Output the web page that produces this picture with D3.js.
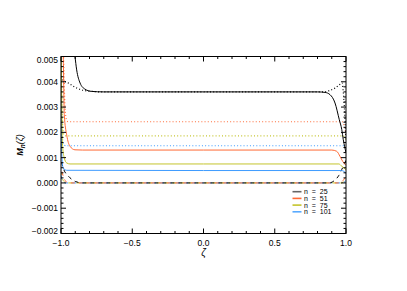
<!DOCTYPE html>
<html>
<head>
<meta charset="utf-8">
<script src="https://cdn.jsdelivr.net/npm/d3@7"></script>
<style>
  body { margin: 0; background: #fff; }
  svg { display: block; }
  text { font-family: "Liberation Sans", Arial, sans-serif; fill: #000; }
</style>
</head>
<body>
<svg width="407" height="291"></svg>
<script>
// data: [zeta, M_n(zeta)] pairs
var n25_solid = [[-0.93,0.0062],[-0.902,0.0050],[-0.89,0.00447],[-0.866,0.00395],[-0.832,0.00371],[-0.785,0.00362],[-0.7,0.0036],
  [0,0.0036],[0.8,0.0036],[0.853,0.00358],[0.888,0.00349],[0.923,0.00316],[0.953,0.0025],[0.97,0.00212],[0.981,0.00171],[1.0,0.0012]];
var n25_dot = [[-1.0,0.0042],[-0.995,0.00412],[-0.949,0.00395],[-0.902,0.00379],[-0.855,0.00368],[-0.785,0.00362],[-0.7,0.0036],
  [0,0.0036],[0.84,0.0036],[0.888,0.00366],[0.923,0.00375],[0.953,0.00388],[0.972,0.00395],[0.985,0.0033],[1.0,0.0017]];
var n25_dash = [[-1.0,0.0009],[-0.98,0.00052],[-0.95,0.00028],[-0.9,0.00006],[-0.85,0],[0,0],[0.88,0],[0.92,0.0001],[0.95,0.0003],[0.97,0.00053],[0.985,0.0007],[1.0,0.0009]];

var n51_solid = [[-1.0,0.0075],[-0.984,0.0050],[-0.977,0.0027],[-0.96,0.0019],[-0.937,0.00145],[-0.902,0.00131],[-0.85,0.0013],
  [0,0.0013],[0.9,0.0013],[0.935,0.00125],[0.958,0.00105],[0.977,0.00085],[1.0,0.0007]];
var n51_dot = [[-1.0,0.008],[-0.982,0.005],[-0.972,0.0030],[-0.962,0.0025],[-0.95,0.00242],[0,0.00242],[0.975,0.00242],[0.99,0.0022],[1.0,0.0019]];
var n51_dash = [[-1.0,0.0006],[-0.98,0.0002],[-0.95,0],[0,0],[0.95,0],[0.98,0.0001],[1.0,0.0003]];

var n75_solid = [[-1.0,0.006],[-0.992,0.0020],[-0.988,0.0014],[-0.977,0.00099],[-0.96,0.00079],[-0.937,0.00075],[0,0.00075],
  [0.95,0.00075],[0.97,0.00066],[1.0,0.00053]];
var n75_dot = [[-1.0,0.005],[-0.99,0.0025],[-0.98,0.0019],[-0.96,0.00186],[0,0.00186],[0.98,0.00186],[1.0,0.0017]];
var n75_dash = [[-1.0,0.0004],[-0.985,0.0001],[-0.96,0],[0,0],[0.97,0],[1.0,0.0002]];

var n101_solid = [[-1.0,0.004],[-0.995,0.0012],[-0.985,0.00059],[-0.96,0.0005],[0,0.00049],[0.97,0.00049],[1.0,0.00038]];
var n101_dot = [[-1.0,0.004],[-0.99,0.0018],[-0.98,0.0015],[-0.96,0.00147],[0,0.00147],[0.98,0.00147],[1.0,0.0014]];
var n101_dash = [[-1.0,0.0003],[-0.99,0.0001],[-0.97,0],[0,0],[0.98,0],[1.0,0.0001]];

var legendLabels = ["n  =  25", "n  =  51", "n  =  75", "n  =  101"];
var legendColors = ["#666666", "#ff6a36", "#c4c42c", "#59aaff"];
var xTicks = [-1.0, -0.5, 0.0, 0.5, 1.0];
var yTicks = [-0.002, -0.001, 0.000, 0.001, 0.002, 0.003, 0.004, 0.005];

var black = "#000", orange = "#ff6a36", yellow = "#c4c42c", blue = "#3d9bff";

const svg = d3.select("svg");
const pLeft = 61, pRight = 346, pTop = 56.5, pBottom = 233.5;

var x = d3.scaleLinear().domain([-1, 1]).range([pLeft, pRight]);
var y = d3.scaleLinear().domain([-0.002, 0.005]).range([pBottom, pTop]);

svg.append("defs").append("clipPath").attr("id", "clip")
  .append("rect").attr("x", pLeft).attr("y", pTop).attr("width", pRight - pLeft).attr("height", pBottom - pTop);

var line = d3.line().x(d => x(d[0])).y(d => y(d[1])).curve(d3.curveMonotoneX);

var series = [
  {d: n101_dash, c: blue, s: "dash", off: 0},
  {d: n75_dash, c: yellow, s: "dash", off: 2},
  {d: n51_dash, c: orange, s: "dash", off: 4},
  {d: n25_dash, c: black, s: "dash", off: 6},
  {d: n101_dot, c: blue, s: "dot"},
  {d: n75_dot, c: yellow, s: "dot"},
  {d: n51_dot, c: orange, s: "dot"},
  {d: n25_dot, c: black, s: "dot"},
  {d: n101_solid, c: blue, s: "solid"},
  {d: n75_solid, c: yellow, s: "solid"},
  {d: n51_solid, c: orange, s: "solid"},
  {d: n25_solid, c: black, s: "solid"}
];

var g = svg.append("g").attr("clip-path", "url(#clip)");
g.selectAll("path")
  .data(series)
  .join("path")
    .attr("d", d => line(d.d))
    .attr("fill", "none")
    .attr("stroke", d => d.c)
    .attr("stroke-width", d => d.s == "dot" ? 1.2 : 1)
    .attr("stroke-dasharray", d => d.s == "dot" ? "1,2.2" : d.s == "dash" ? "4,4" : null)
    .attr("stroke-dashoffset", d => d.off || 0);

// frame
svg.append("rect")
  .attr("x", pLeft).attr("y", pTop).attr("width", pRight - pLeft).attr("height", pBottom - pTop)
  .attr("fill", "none").attr("stroke", "#000").attr("stroke-width", 1);

// ticks (inward, IDL style)
var xMinor = d3.range(-1, 1.0001, 0.1);
var yMinor = d3.range(-0.002, 0.00500001, 0.0002);
var tk = svg.append("g").attr("stroke", "#000").attr("stroke-width", 1);
xMinor.forEach(function(v) {
  var major = Math.abs(v * 2 - Math.round(v * 2)) < 1e-6;
  var len = major ? 5 : 2.5;
  tk.append("line").attr("x1", x(v)).attr("x2", x(v)).attr("y1", pBottom).attr("y2", pBottom - len);
  tk.append("line").attr("x1", x(v)).attr("x2", x(v)).attr("y1", pTop).attr("y2", pTop + len);
});
yMinor.forEach(function(v) {
  var major = Math.abs(v * 1000 - Math.round(v * 1000)) < 1e-6;
  var len = major ? 5 : 2.5;
  tk.append("line").attr("y1", y(v)).attr("y2", y(v)).attr("x1", pLeft).attr("x2", pLeft + len);
  tk.append("line").attr("y1", y(v)).attr("y2", y(v)).attr("x1", pRight).attr("x2", pRight - len);
});

// tick labels
var fmtX = d3.format(".1f");
svg.selectAll(".xl").data(xTicks).join("text")
  .attr("x", d => x(d)).attr("y", pBottom + 12)
  .attr("text-anchor", "middle").attr("font-size", 8.5)
  .text(d => fmtX(d).replace("-", "\u2212"));

var fmtY = d3.format(".3f");
svg.selectAll(".yl").data(yTicks).join("text")
  .attr("x", pLeft - 3).attr("y", d => y(d))
  .attr("dy", d => d == 0.005 ? 6.5 : d == -0.002 ? 0 : 3)
  .attr("text-anchor", "end").attr("font-size", 8.5)
  .text(d => fmtY(d).replace("-", "\u2212"));

// axis titles
svg.append("text")
  .attr("x", x(0)).attr("y", 256)
  .attr("text-anchor", "middle").attr("font-size", 10).attr("font-style", "italic")
  .text("\u03b6");

var yl = svg.append("text")
  .attr("transform", "translate(23," + ((pTop + pBottom) / 2) + ") rotate(-90)")
  .attr("text-anchor", "middle").attr("font-size", 9).attr("font-style", "italic").attr("font-weight", "bold");
yl.append("tspan").text("M");
yl.append("tspan").attr("font-size", 6.5).attr("dy", 2).text("n");
yl.append("tspan").attr("dy", -2).attr("font-weight", "normal").text("(\u03b6)");

// legend
var lg = svg.append("g");
legendLabels.forEach(function(lab, i) {
  var ly = 191.7 + i * 6.7;
  lg.append("line").attr("x1", 292.5).attr("x2", 301.5).attr("y1", ly).attr("y2", ly)
    .attr("stroke", legendColors[i]).attr("stroke-width", 1.6);
  lg.append("text").attr("x", 304).attr("y", ly + 2.4)
    .attr("font-size", 7).attr("xml:space", "preserve").style("white-space", "pre")
    .attr("fill", "#333")
    .text(lab);
});
</script>
</body>
</html>
